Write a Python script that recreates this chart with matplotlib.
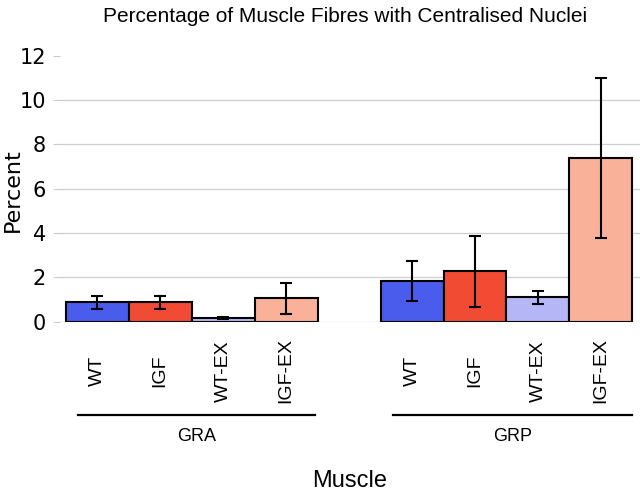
import numpy as np
import matplotlib.pyplot as plt
from matplotlib import font_manager

# Data
groups = ["GRA", "GRP"]
conditions = ["WT", "IGF", "WT-EX", "IGF-EX"]
gra_means = [0.87, 0.87, 0.15, 1.05]
gra_err = [0.28, 0.28, 0.05, 0.70]
grp_means = [1.83, 2.28, 1.10, 7.37]
grp_err = [0.90, 1.60, 0.30, 3.60]
yticks = [0, 2, 4, 6, 8, 10, 12]

colors = ["#4a5cec", "#f24b33", "#b4b6f6", "#f9b199"]

narrow = "Liberation Sans Narrow"
names = {f.name for f in font_manager.fontManager.ttflist}
if narrow not in names:
    narrow = "Liberation Sans"

fig = plt.figure(figsize=(6.4, 4.97), dpi=100)
ax = fig.add_axes([60 / 640, 1 - 321.7 / 497, 580 / 640, (321.7 - 55.5) / 497])

x_gra = np.arange(4)
x_grp = np.arange(4) + 5

# gridlines (no line at 12)
for y in yticks[:-1]:
    ax.axhline(y, color="#cfcfcf", lw=0.9, zorder=0)

for xs, means, errs in [(x_gra, gra_means, gra_err), (x_grp, grp_means, grp_err)]:
    ax.bar(xs, means, width=1.0, color=colors, edgecolor="black", linewidth=1.5, zorder=2)
    ax.errorbar(xs, means, yerr=errs, fmt="none", ecolor="black", elinewidth=1.5,
                capsize=4, capthick=1.5, zorder=3)

ax.set_xlim(-0.59, 8.62)
ax.set_ylim(0, 12)
ax.set_yticks(yticks)
ax.set_yticklabels([str(t) for t in yticks], fontsize=15, family="DejaVu Sans")
ax.tick_params(axis="y", length=5, color="#cccccc", pad=5)
ax.set_xticks([])
for s in ax.spines.values():
    s.set_visible(False)

fig.text(13 / 640, 1 - 190 / 497, "Percent", rotation=90, ha="center", va="center",
         fontsize=16, family="DejaVu Sans")

# condition labels under each bar
trans = ax.get_xaxis_transform()
for xs in (x_gra, x_grp):
    for x, lab in zip(xs, conditions):
        ax.text(x, -0.185, lab, rotation=90, ha="center", va="center",
                fontsize=14, family="Liberation Sans", transform=trans)

# group brackets and names
spans = [(-0.3, 3.46), (4.7, 8.49)]
for (x0, x1), g in zip(spans, groups):
    ax.plot([x0, x1], [-0.352, -0.352], color="black", lw=1.6, transform=trans,
            clip_on=False)
    ax.text((x0 + x1) / 2, -0.43, g, ha="center", va="center", fontsize=13,
            family=narrow, transform=trans)

ax.text(0.5, -0.6, "Muscle", ha="center", va="center", fontsize=17,
        family=narrow, transform=ax.transAxes)

fig.text(345 / 640, 1 - 16 / 497, "Percentage of Muscle Fibres with Centralised Nuclei",
         ha="center", va="center", fontsize=15, family=narrow)

fig.savefig("out.png", dpi=100)
